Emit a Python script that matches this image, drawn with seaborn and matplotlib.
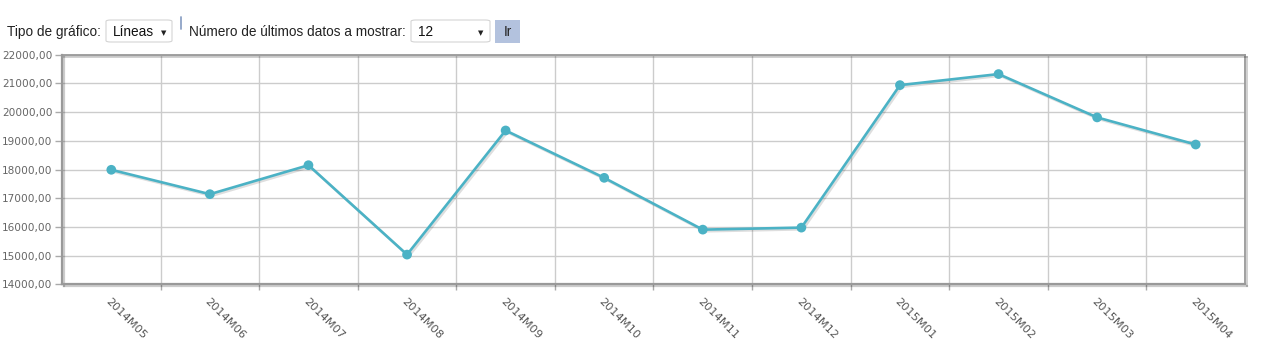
import matplotlib
matplotlib.use("Agg")
import matplotlib.pyplot as plt
import matplotlib.patheffects as pe
from matplotlib.patches import Rectangle, FancyBboxPatch
from matplotlib.lines import Line2D
from matplotlib.ticker import FuncFormatter, FixedLocator
import seaborn as sns
import pandas as pd

periods = ['2014M05', '2014M06', '2014M07', '2014M08', '2014M09', '2014M10',
           '2014M11', '2014M12', '2015M01', '2015M02', '2015M03', '2015M04']
values = [17990, 17140, 18150, 15035, 19360, 17710,
          15905, 15975, 20940, 21325, 19815, 18870]
y_ticks = [14000, 15000, 16000, 17000, 18000, 19000, 20000, 21000, 22000]

df = pd.DataFrame({'periodo': periods, 'valor': values})
df['pos'] = range(len(periods))

sns.set_theme(style='white')
plt.rcParams['font.family'] = ['DejaVu Sans']

W, H = 1266, 350
fig = plt.figure(figsize=(W / 100, H / 100), dpi=100)
ax = fig.add_axes([62 / W, 1 - 284.3 / H, (1245 - 62) / W, (284.3 - 54.7) / H])

line_color = '#4bb2c5'
sns.lineplot(data=df, x='pos', y='valor', ax=ax, color=line_color, linewidth=1.9,
             marker='o', markersize=7, markeredgewidth=0, zorder=5)
for ln in ax.lines:
    ln.set_path_effects([pe.SimpleLineShadow(offset=(1.2, -1.2), alpha=0.13, shadow_color='black'),
                         pe.Normal()])

ax.set_xlim(-0.5, len(periods) - 0.5)
ax.set_ylim(y_ticks[0], y_ticks[-1])
ax.set_xlabel('')
ax.set_ylabel('')

# y axis
ax.set_yticks(y_ticks)
ax.yaxis.set_major_formatter(FuncFormatter(lambda v, p: f"{v:.2f}".replace('.', ',')))
ax.tick_params(axis='y', which='major', left=True, length=5, width=1, color='#aaaaaa',
               labelsize=7.6, labelcolor='#666666', pad=2)

# x axis: labels at categories, gridlines/ticks at boundaries
ax.set_xticks(range(len(periods)))
ax.set_xticklabels(periods, rotation=-45, ha='left', va='top', rotation_mode='anchor',
                   fontsize=8.2, color='#555555')
ax.tick_params(axis='x', which='major', bottom=False, length=0, pad=9)
ax.xaxis.set_minor_locator(FixedLocator([i + 0.5 for i in range(len(periods) - 1)]))
ax.tick_params(axis='x', which='minor', bottom=True, length=4, width=1, color='#aaaaaa')

ax.grid(False)
ax.yaxis.grid(True, color='#cccccc', linewidth=1)
ax.xaxis.grid(True, which='minor', color='#cccccc', linewidth=1)
ax.set_axisbelow(True)

for name, sp in ax.spines.items():
    sp.set_visible(True)
    sp.set_color('#999999')
    sp.set_linewidth(1.6 if name in ('left', 'bottom') else 1.3)
    sp.set_path_effects([pe.SimpleLineShadow(offset=(1.5, -1.5), alpha=0.2, shadow_color='black'),
                         pe.Normal()])

# toolbar (UI controls above the chart)
def fx(px):
    return px / W

def fy(py):
    return 1 - py / H

ty = fy(32)
ui_font = ['Liberation Sans', 'DejaVu Sans']
fig.text(fx(7), ty, 'Tipo de gráfico:', fontsize=9.8, color='#222222', va='center', ha='left',
         family=ui_font)
fig.patches.append(FancyBboxPatch((fx(106), fy(42)), fx(66), (42 - 20) / H,
                                  boxstyle='round,pad=0,rounding_size=0.004',
                                  transform=fig.transFigure, facecolor='white',
                                  edgecolor='#d4d4d4', linewidth=0.8))
fig.text(fx(113), ty, 'Líneas', fontsize=9.8, color='#111111', va='center', ha='left',
         family=ui_font)
fig.text(fx(164), fy(33), '▼', fontsize=5, color='#222222', va='center', ha='center',
         family=['DejaVu Sans'])
fig.lines.append(Line2D([fx(181), fx(181)], [fy(17), fy(29)], transform=fig.transFigure,
                        color='#8ea2c6', linewidth=1.3))
fig.text(fx(189), ty, 'Número de últimos datos a mostrar:', fontsize=9.8, color='#222222',
         va='center', ha='left', family=ui_font)
fig.patches.append(FancyBboxPatch((fx(411), fy(42)), fx(79), (42 - 20) / H,
                                  boxstyle='round,pad=0,rounding_size=0.004',
                                  transform=fig.transFigure, facecolor='white',
                                  edgecolor='#d4d4d4', linewidth=0.8))
fig.text(fx(418), ty, '12', fontsize=9.8, color='#111111', va='center', ha='left',
         family=ui_font)
fig.text(fx(481), fy(33), '▼', fontsize=5, color='#222222', va='center', ha='center',
         family=['DejaVu Sans'])
fig.patches.append(Rectangle((fx(495), fy(43)), fx(25), (43 - 20) / H,
                             transform=fig.transFigure, facecolor='#b3c2de', edgecolor='none'))
fig.text(fx(507.5), ty, 'Ir', fontsize=9.8, color='#222222', va='center', ha='center',
         family=ui_font)

fig.savefig('out.png', dpi=100, facecolor='white')
